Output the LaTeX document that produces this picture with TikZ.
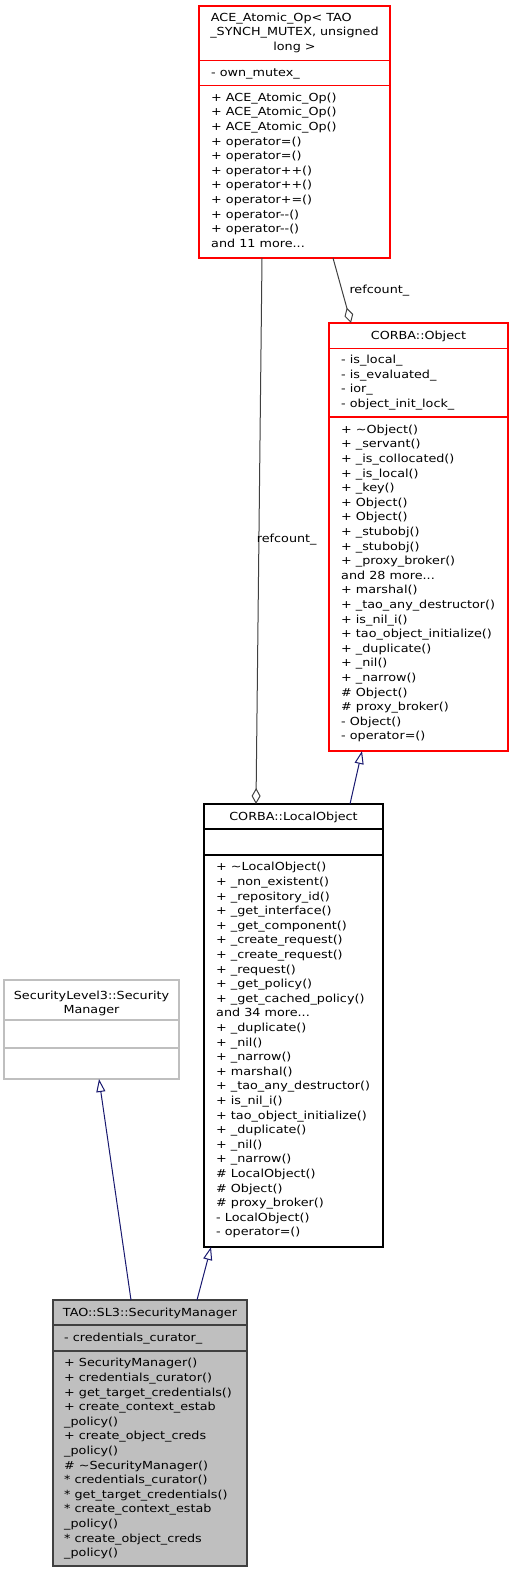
\documentclass[tikz,border=0pt]{standalone}
\usepackage{fontspec}
\setmainfont{DejaVu Sans}[FakeStretch=1.15]
\usetikzlibrary{arrows.meta,calc}
\definecolor{inhcol}{HTML}{191970}
\definecolor{aggcol}{HTML}{404040}
\definecolor{taofill}{HTML}{BFBFBF}
\definecolor{graybord}{HTML}{BFBFBF}
\newcommand\mdots{.{}.{}.}
\newcommand\txtlines[3]{%
  \foreach \t [count=\i from 0] in {#3} {\node[txt] at (#1, #2+\i*14.6) {\t};}}
\begin{document}
\begin{tikzpicture}[x=1pt,y=-1pt,
  box/.style={draw, line width=1.2pt, inner sep=0pt, outer sep=0pt, anchor=north west},
  redbox/.style={box, draw=red},
  txt/.style={anchor=base west, inner sep=0pt, font=\fontsize{11.1}{14.6}\selectfont},
  ttl/.style={anchor=base, inner sep=0pt, font=\fontsize{11.1}{14.6}\selectfont},
  inh/.style={draw=inhcol, line width=1pt, -{Triangle[open, length=13pt, width=9pt]}},
  agg/.style={draw=aggcol, line width=1pt, -{Diamond[open, length=16pt, width=9pt]}},
  sep/.style={line width=1.2pt}]
\fill[white] (0,0) rectangle (513,1573);
\useasboundingbox (0,0) rectangle (513,1573);

% ACE_Atomic_Op
\node[redbox, minimum width=191pt, minimum height=252pt] (ace) at (199,6) {};
\draw[sep, red] (199,60.5) -- (390,60.5);
\draw[sep, red] (199,85.5) -- (390,85.5);
\node[txt] (acet1) at (210.7,21.3) {ACE\_Atomic\_Op< TAO};
\node[ttl] (acet2) at (294.5,35.9) {\_SYNCH\_MUTEX, unsigned};
\node[ttl] (acet3) at (294.5,50.5) {long >};
\node[txt] (acea) at (211,76.3) {- own\_mutex\_};
\txtlines{211}{101.3}{+ ACE\_Atomic\_Op(),+ ACE\_Atomic\_Op(),+ ACE\_Atomic\_Op(),+ operator=(),+ operator=(),+ operator++(),+ operator++(),+ operator+=(),+ operator-{}-(),+ operator-{}-(),and 11 more\mdots}

% CORBA::Object
\node[redbox, minimum width=179pt, minimum height=428pt] (obj) at (329,323) {};
\draw[sep, red] (329,348.3) -- (508,348.3);
\draw[sep, red] (329,417) -- (508,417);
\node[ttl] (objt) at (418.5,339.5) {CORBA::Object};
\txtlines{341}{363.7}{- is\_local\_,- is\_evaluated\_,- ior\_,- object\_init\_lock\_}
\txtlines{341}{433.2}{+ \textasciitilde Object(),+ \_servant(),+ \_is\_collocated(),+ \_is\_local(),+ \_key(),+ Object(),+ Object(),+ \_stubobj(),+ \_stubobj(),+ \_proxy\_broker(),and 28 more\mdots,+ marshal(),+ \_tao\_any\_destructor(),+ is\_nil\_i(),+ tao\_object\_initialize(),+ \_duplicate(),+ \_nil(),+ \_narrow(),\# Object(),\# proxy\_broker(),- Object(),- operator=()}

% CORBA::LocalObject
\node[box, minimum width=179pt, minimum height=443pt] (lo) at (204,804) {};
\draw[sep] (204,829) -- (383,829);
\draw[sep] (204,855) -- (383,855);
\node[ttl] (lot) at (293.5,820.3) {CORBA::LocalObject};
\txtlines{216}{870.8}{+ \textasciitilde LocalObject(),+ \_non\_existent(),+ \_repository\_id(),+ \_get\_interface(),+ \_get\_component(),+ \_create\_request(),+ \_create\_request(),+ \_request(),+ \_get\_policy(),+ \_get\_cached\_policy(),and 34 more\mdots,+ \_duplicate(),+ \_nil(),+ \_narrow(),+ marshal(),+ \_tao\_any\_destructor(),+ is\_nil\_i(),+ tao\_object\_initialize(),+ \_duplicate(),+ \_nil(),+ \_narrow(),\# LocalObject(),\# Object(),\# proxy\_broker(),- LocalObject(),- operator=()}

% SecurityLevel3::SecurityManager
\node[box, draw=graybord, minimum width=175pt, minimum height=99pt] (sl3) at (4,980) {};
\draw[sep, graybord] (4,1020) -- (179,1020);
\draw[sep, graybord] (4,1048) -- (179,1048);
\node[ttl] (sl3t1) at (91.5,999.3) {SecurityLevel3::Security};
\node[ttl] (sl3t2) at (91.5,1013.9) {Manager};

% TAO::SL3::SecurityManager
\node[box, draw=aggcol, fill=taofill, minimum width=194pt, minimum height=266pt] (tao) at (53,1300) {};
\draw[sep, aggcol] (53,1325) -- (247,1325);
\draw[sep, aggcol] (53,1351) -- (247,1351);
\node[ttl] (taot) at (150,1316.5) {TAO::SL3::SecurityManager};
\node[txt] (taoa) at (64,1341.5) {- credentials\_curator\_};
\txtlines{64}{1366.8}{+ SecurityManager(),+ credentials\_curator(),+ get\_target\_credentials(),+ create\_context\_estab,\_policy(),+ create\_object\_creds,\_policy(),\# \textasciitilde SecurityManager(),* credentials\_curator(),* get\_target\_credentials(),* create\_context\_estab,\_policy(),* create\_object\_creds,\_policy()}

% connectors
\draw[agg] ($(ace.south west)+(63,0)$) -- ($(lo.north west)+(52,0)$);
\node[txt] (lbl1) at (256.7,542.5) {refcount\_};
\draw[agg] ($(ace.south west)+(134,0)$) -- ($(obj.north west)+(22,0)$);
\node[txt] (lbl2) at (349.3,293.3) {refcount\_};
\draw[inh] ($(lo.north west)+(146,0)$) -- ($(obj.south west)+(33,0)$);
\draw[inh] ($(tao.north west)+(144,0)$) -- ($(lo.south west)+(7,0)$);
\draw[inh] ($(tao.north west)+(78,0)$) -- ($(sl3.south west)+(95,0)$);
\end{tikzpicture}
\end{document}
